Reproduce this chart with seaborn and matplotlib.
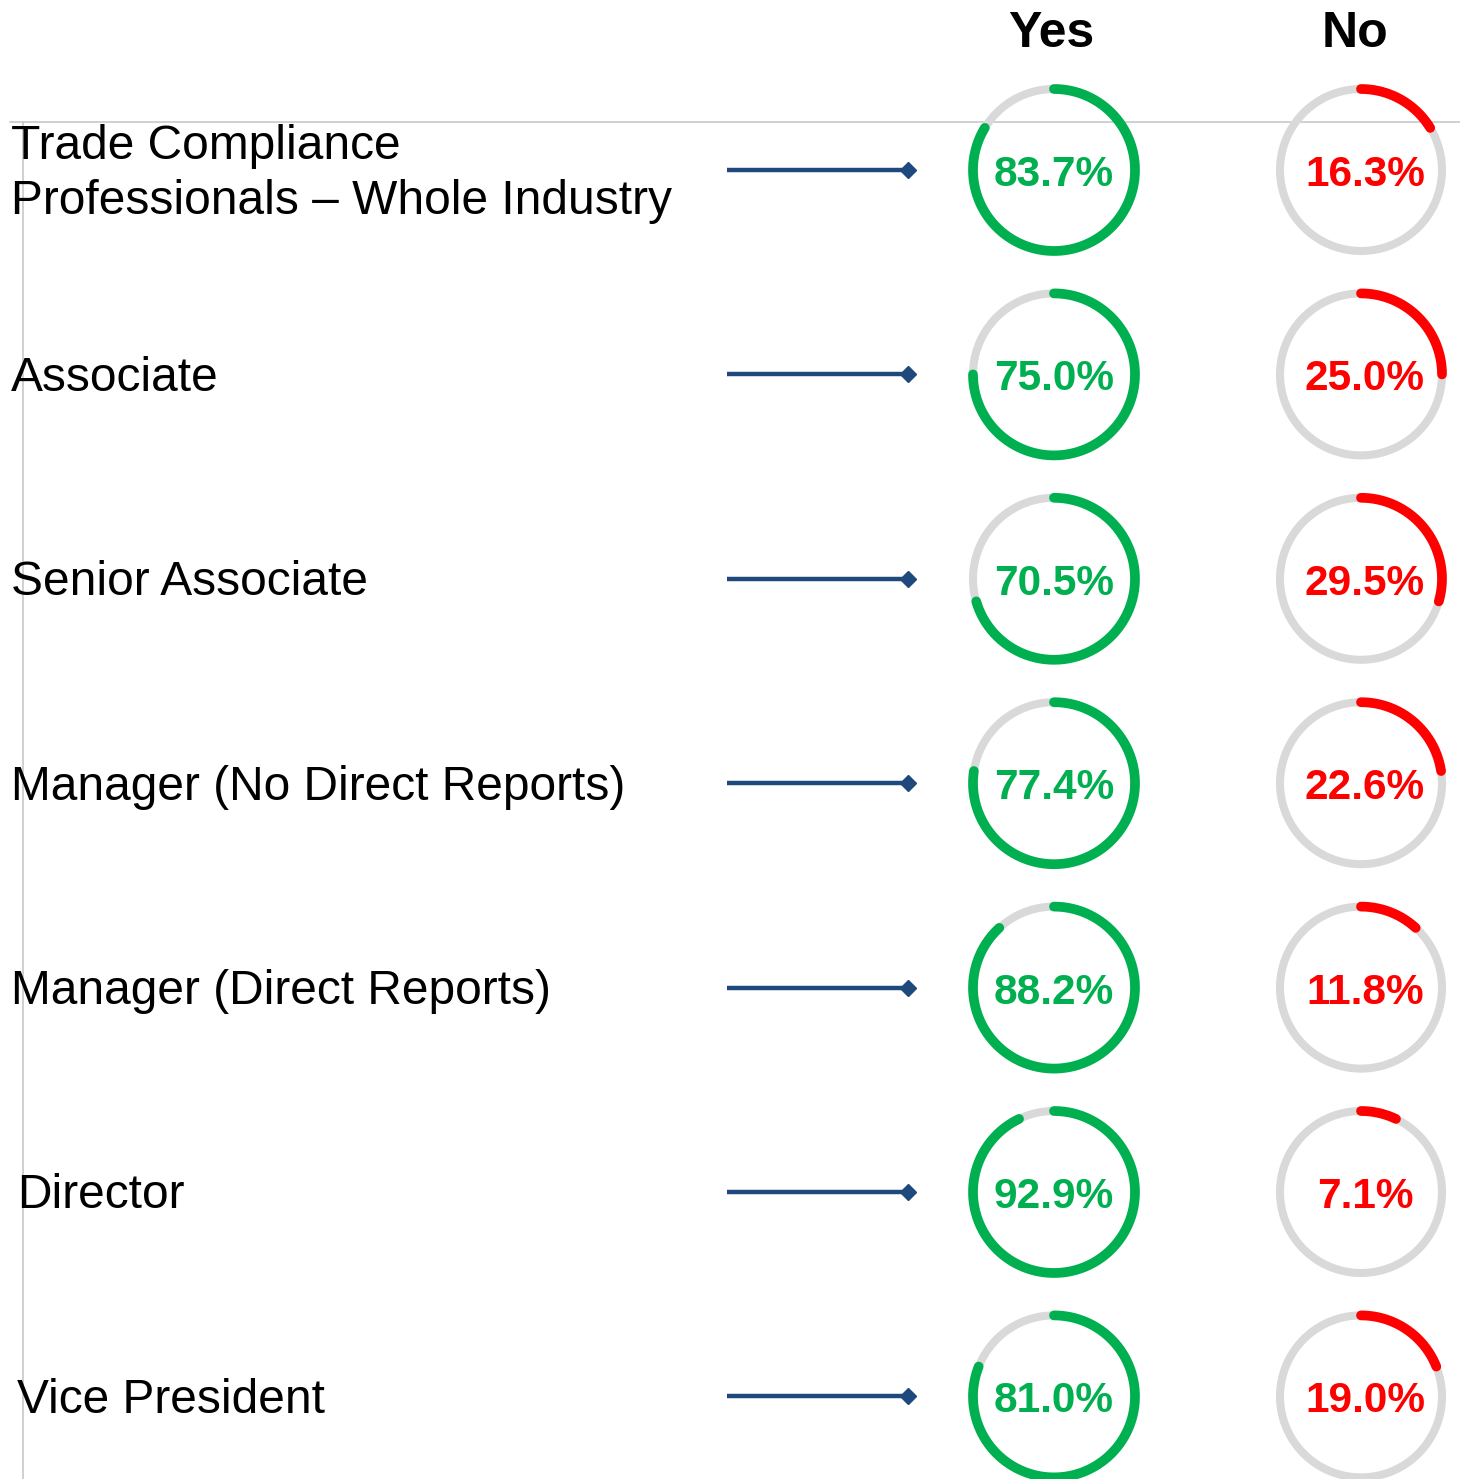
import numpy as np
import matplotlib
matplotlib.use("Agg")
import matplotlib.pyplot as plt
import seaborn as sns

# data
categories = ["Trade Compliance\nProfessionals \u2013 Whole Industry", "Associate", "Senior Associate",
              "Manager (No Direct Reports)", "Manager (Direct Reports)", "Director", "Vice President"]
yes_pct = [83.7, 75.0, 70.5, 77.4, 88.2, 92.9, 81.0]
no_pct = [16.3, 25.0, 29.5, 22.6, 11.8, 7.1, 19.0]
columns = ["Yes", "No"]

sns.set_theme(style="white")
plt.rcParams['font.family'] = ['Liberation Sans', 'DejaVu Sans']

W, H = 1460, 1479
fig = plt.figure(figsize=(W / 100, H / 100), dpi=100)
ax = fig.add_axes([0, 0, 1, 1])
ax.set_xlim(0, W)
ax.set_ylim(H, 0)
ax.set_aspect("equal")
ax.axis("off")

row_y = 170 + 204.4 * np.arange(len(categories))
col_x = {"Yes": 1054, "No": 1361}
col_color = {"Yes": "#00B050", "No": "#FF0000"}
text_dx = {"Yes": 0, "No": 4}
head_dx = {"Yes": -3, "No": -6}
r = 81

# frame lines
ax.plot([10, W], [122, 122], color="#C8C8C8", lw=1.2)
ax.plot([23, 23], [122, H], color="#C8C8C8", lw=1.2)

# column headers
for c in columns:
    ax.text(col_x[c] + head_dx[c], 34, c, ha="center", va="center", fontsize=36, fontweight="bold", color="black")

theta_full = np.linspace(0, 2 * np.pi, 400)
for i, cat in enumerate(categories):
    y = row_y[i]
    x0 = 11 if i < 5 else 17
    ax.text(x0, y + 4, cat, ha="left", va="center", fontsize=34.5, color="black", linespacing=1.3)
    # arrow
    ax.plot([727, 908], [y, y], color="#1F497D", lw=3.2, solid_capstyle="butt")
    ax.plot([908], [y], marker="D", markersize=8.5, color="#1F497D")
    vals = {"Yes": yes_pct[i], "No": no_pct[i]}
    for c in columns:
        cx = col_x[c]
        ax.plot(cx + r * np.sin(theta_full), y - r * np.cos(theta_full), color="#D9D9D9", lw=5.8)
        th = np.linspace(0, 2 * np.pi * vals[c] / 100, 300)
        ax.plot(cx + r * np.sin(th), y - r * np.cos(th), color=col_color[c], lw=7,
                solid_capstyle="round")
        ax.text(cx + text_dx[c], y + 5, f"{vals[c]:.1f}%", ha="center", va="center",
                fontsize=30.5, fontweight="bold", color=col_color[c])

fig.savefig("out.png", dpi=100)
